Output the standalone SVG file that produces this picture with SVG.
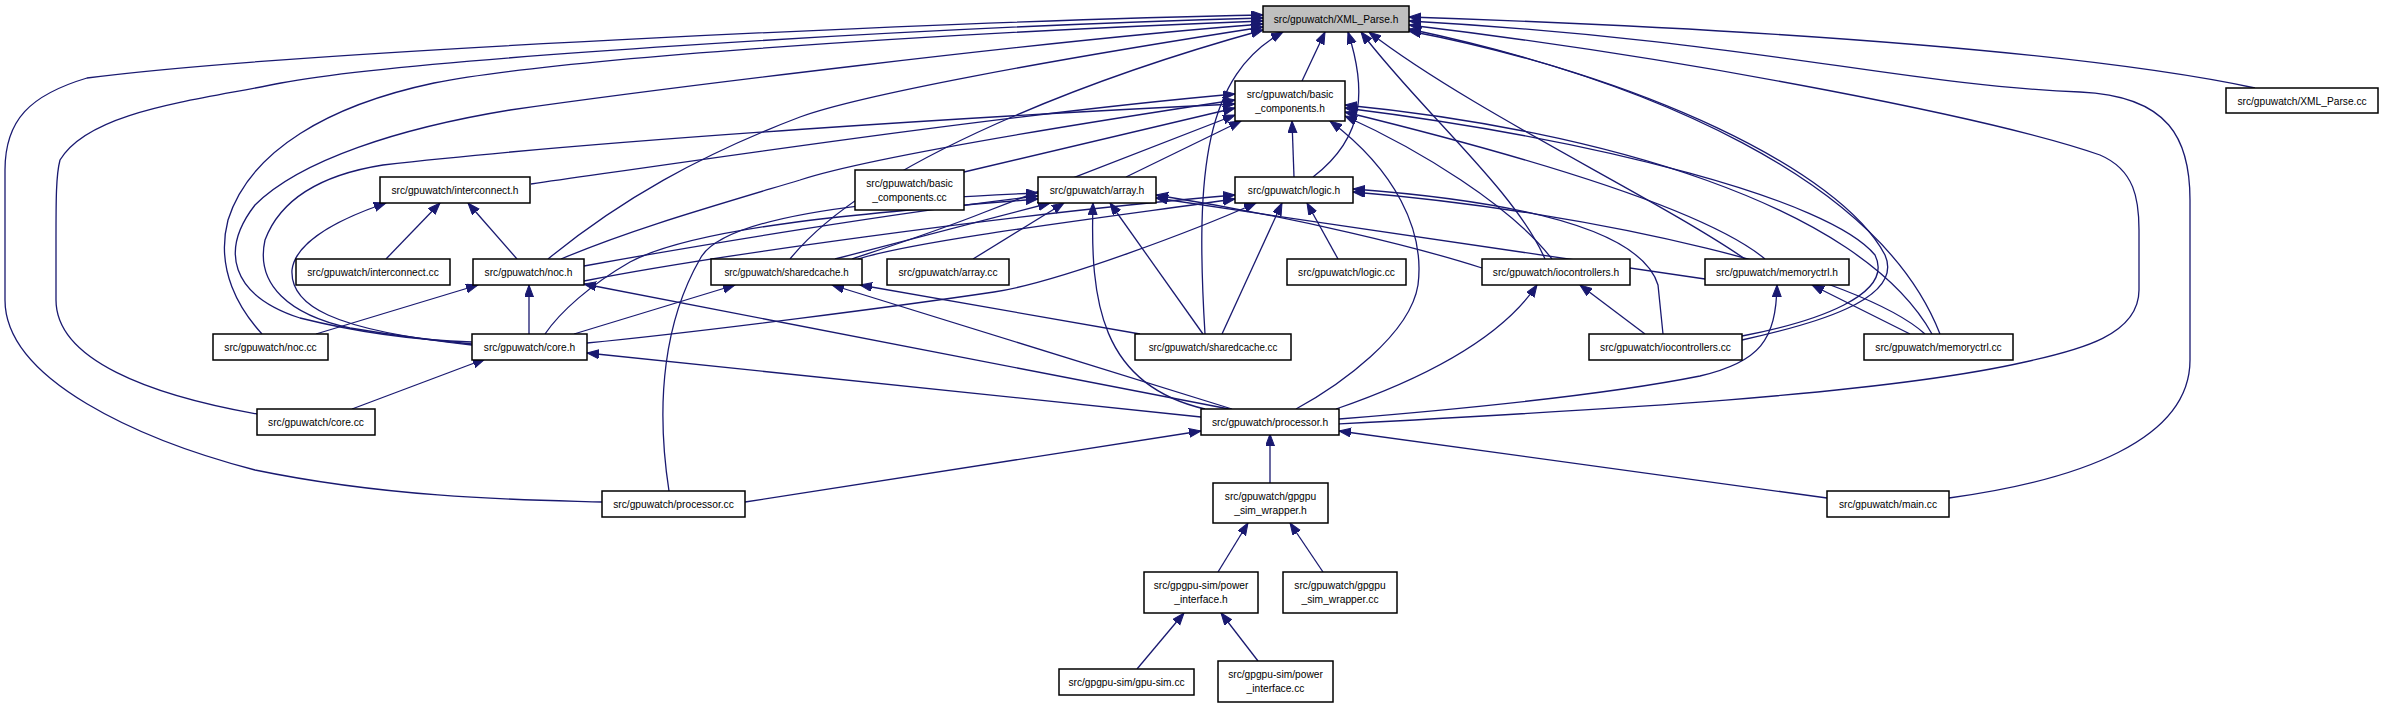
<svg xmlns="http://www.w3.org/2000/svg" width="2385" height="708" viewBox="0 0 2385 708">
<style>
.node rect{fill:#fff;stroke:#000;stroke-width:1.5}
#n_xml rect{fill:#bfbfbf}
.edges path{fill:none;stroke:#191970;stroke-width:1.3;marker-start:url(#arr)}
text{font-family:"Liberation Sans",Arial,sans-serif;font-size:11px;text-anchor:middle;fill:#000}
</style>
<defs>
<marker id="arr" markerUnits="userSpaceOnUse" markerWidth="13" markerHeight="10" refX="12" refY="4.5" orient="auto-start-reverse">
<path d="M0,0 L12,4.5 L0,9 z" fill="#191970" stroke="#191970" stroke-width="1"/>
</marker>
</defs>
<rect width="2385" height="708" fill="#fff"/>
<g class="edges">
<path d="M1325,32 L1302,81"/>
<path d="M1348,32 C1365,85 1368,135 1313,177"/>
<path d="M1283,32 C1205,75 1195,170 1205,334"/>
<path d="M1361,32 C1420,110 1515,190 1545,259"/>
<path d="M1369,32 C1470,110 1660,200 1745,259"/>
<path d="M1409,17 C1800,30 2100,55 2255,88"/>
<path d="M1409,21 C1750,40 1900,85 2080,92 C2170,96 2190,140 2190,200 L2190,360 C2190,440 2080,480 1949,498"/>
<path d="M1409,25 C1700,60 2000,120 2100,155 C2135,170 2139,200 2139,230 L2139,290 C2139,335 2080,350 2025,362 C1880,395 1600,410 1339,424"/>
<path d="M1409,29 C1650,80 1880,180 1940,334"/>
<path d="M1409,31 C1640,75 1840,170 1885,255 C1905,300 1810,325 1742,340"/>
<path d="M1263,27 C1050,60 860,95 800,117 C700,155 620,200 548,259"/>
<path d="M1263,30 C1100,75 870,160 790,259"/>
<path d="M1263,24 C1050,40 650,90 510,110 C400,128 300,160 255,205 C220,250 230,295 300,318 C380,338 440,341 472,342"/>
<path d="M1263,21 C900,35 550,60 434,83 C330,105 250,150 228,220 C215,270 240,310 262,334"/>
<path d="M1263,18 C900,28 400,60 281,83 C200,100 90,110 60,160 C56,175 56,200 56,240 L56,300 C56,360 150,395 257,414"/>
<path d="M1263,15 C1000,20 300,50 87,78 C30,95 5,120 5,170 L5,300 C5,380 140,440 255,470 C400,500 540,500 602,502"/>
<path d="M1241,121 L1126,177"/>
<path d="M1292,121 L1294,177"/>
<path d="M1330,121 C1395,170 1425,230 1418,285 C1410,335 1340,385 1296,409"/>
<path d="M1235,94 C1000,115 700,160 531,184"/>
<path d="M1235,100 C1050,128 860,160 800,180 C700,210 630,230 561,259"/>
<path d="M1235,108 L964,172"/>
<path d="M1235,115 L985,212 C940,230 885,248 852,259"/>
<path d="M1235,104 C1000,115 600,140 383,165 C320,175 280,200 265,240 C255,285 290,315 350,328 C410,338 450,342 472,344"/>
<path d="M440,203 L386,259"/>
<path d="M468,203 L517,259"/>
<path d="M386,203 C330,222 295,245 292,270 C290,305 330,330 472,345"/>
<path d="M1064,203 L973,259"/>
<path d="M1110,203 L1203,334"/>
<path d="M1093,203 C1090,300 1100,385 1205,409"/>
<path d="M1050,203 L835,259"/>
<path d="M1038,196 C900,212 700,245 584,266"/>
<path d="M1038,199 C880,212 700,225 630,262 C590,285 560,312 545,334"/>
<path d="M1038,193 C850,200 720,220 700,259 C665,320 655,400 669,491"/>
<path d="M1156,195 C1300,218 1420,248 1482,268"/>
<path d="M1156,198 C1350,228 1600,262 1705,279"/>
<path d="M1307,203 L1338,259"/>
<path d="M1282,203 L1222,334"/>
<path d="M1256,203 C1200,228 1060,282 994,292 C900,306 700,332 587,343"/>
<path d="M1235,195 C1000,215 700,258 584,281"/>
<path d="M1235,199 C1100,218 920,240 858,259"/>
<path d="M1353,189 C1500,200 1640,225 1658,285 L1663,334"/>
<path d="M1353,192 C1600,212 1860,275 1925,334"/>
<path d="M478,285 L316,334"/>
<path d="M529,285 L529,334"/>
<path d="M584,284 L1229,409"/>
<path d="M735,285 L574,334"/>
<path d="M832,285 L1232,409"/>
<path d="M860,285 L1140,334"/>
<path d="M485,359 L352,409"/>
<path d="M587,353 L1201,417"/>
<path d="M1580,285 L1645,334"/>
<path d="M1537,285 C1500,340 1420,380 1336,409"/>
<path d="M1812,285 L1910,334"/>
<path d="M1777,285 C1776,340 1760,362 1700,376 C1600,396 1450,410 1339,419"/>
<path d="M1345,116 C1420,150 1510,205 1552,259"/>
<path d="M1345,112 C1500,150 1700,205 1765,259"/>
<path d="M1345,105 C1600,130 1860,205 1932,334"/>
<path d="M1345,108 C1600,140 1830,200 1875,255 C1895,295 1815,322 1742,336"/>
<path d="M1201,431 L745,502"/>
<path d="M1270,434 L1270,483"/>
<path d="M1339,431 L1827,498"/>
<path d="M1248,523 L1218,572"/>
<path d="M1290,523 L1323,572"/>
<path d="M1184,613 L1137,669"/>
<path d="M1221,613 L1258,661"/>
</g>
<g id="n_xml" class="node"><rect x="1263" y="6" width="146" height="26"/><text x="1336" y="23" textLength="124.7" lengthAdjust="spacingAndGlyphs">src/gpuwatch/XML_Parse.h</text></g>
<g id="n_bch" class="node"><rect x="1235" y="81" width="110" height="40"/><text x="1290" y="98" textLength="86.7" lengthAdjust="spacingAndGlyphs">src/gpuwatch/basic</text><text x="1290" y="112" textLength="69.7" lengthAdjust="spacingAndGlyphs">_components.h</text></g>
<g id="n_xmlcc" class="node"><rect x="2226" y="88" width="152" height="25"/><text x="2302" y="104.5" textLength="129.2" lengthAdjust="spacingAndGlyphs">src/gpuwatch/XML_Parse.cc</text></g>
<g id="n_ich" class="node"><rect x="380" y="177" width="150" height="26"/><text x="455" y="194" textLength="127" lengthAdjust="spacingAndGlyphs">src/gpuwatch/interconnect.h</text></g>
<g id="n_bccc" class="node"><rect x="855" y="170" width="109" height="40"/><text x="909.5" y="187" textLength="86.7" lengthAdjust="spacingAndGlyphs">src/gpuwatch/basic</text><text x="909.5" y="201" textLength="74.3" lengthAdjust="spacingAndGlyphs">_components.cc</text></g>
<g id="n_arr" class="node"><rect x="1038" y="177" width="118" height="26"/><text x="1097" y="194" textLength="94.7" lengthAdjust="spacingAndGlyphs">src/gpuwatch/array.h</text></g>
<g id="n_log" class="node"><rect x="1235" y="177" width="118" height="26"/><text x="1294" y="194" textLength="92.4" lengthAdjust="spacingAndGlyphs">src/gpuwatch/logic.h</text></g>
<g id="n_icc" class="node"><rect x="296" y="259" width="154" height="26"/><text x="373" y="276" textLength="131.5" lengthAdjust="spacingAndGlyphs">src/gpuwatch/interconnect.cc</text></g>
<g id="n_noc" class="node"><rect x="473" y="259" width="111" height="26"/><text x="528.5" y="276" textLength="87.9" lengthAdjust="spacingAndGlyphs">src/gpuwatch/noc.h</text></g>
<g id="n_sch" class="node"><rect x="711" y="259" width="151" height="26"/><text x="786.5" y="276" textLength="124.2" lengthAdjust="spacingAndGlyphs">src/gpuwatch/sharedcache.h</text></g>
<g id="n_arrcc" class="node"><rect x="887" y="259" width="122" height="26"/><text x="948" y="276" textLength="99.2" lengthAdjust="spacingAndGlyphs">src/gpuwatch/array.cc</text></g>
<g id="n_logcc" class="node"><rect x="1287" y="259" width="119" height="26"/><text x="1346.5" y="276" textLength="96.9" lengthAdjust="spacingAndGlyphs">src/gpuwatch/logic.cc</text></g>
<g id="n_ioh" class="node"><rect x="1482" y="259" width="148" height="26"/><text x="1556" y="276" textLength="126.4" lengthAdjust="spacingAndGlyphs">src/gpuwatch/iocontrollers.h</text></g>
<g id="n_mch" class="node"><rect x="1705" y="259" width="144" height="26"/><text x="1777" y="276" textLength="121.9" lengthAdjust="spacingAndGlyphs">src/gpuwatch/memoryctrl.h</text></g>
<g id="n_noccc" class="node"><rect x="213" y="334" width="115" height="26"/><text x="270.5" y="351" textLength="92.4" lengthAdjust="spacingAndGlyphs">src/gpuwatch/noc.cc</text></g>
<g id="n_core" class="node"><rect x="472" y="334" width="115" height="26"/><text x="529.5" y="351" textLength="91.3" lengthAdjust="spacingAndGlyphs">src/gpuwatch/core.h</text></g>
<g id="n_schcc" class="node"><rect x="1135" y="334" width="156" height="26"/><text x="1213" y="351" textLength="128.7" lengthAdjust="spacingAndGlyphs">src/gpuwatch/sharedcache.cc</text></g>
<g id="n_iocc" class="node"><rect x="1589" y="334" width="153" height="26"/><text x="1665.5" y="351" textLength="130.9" lengthAdjust="spacingAndGlyphs">src/gpuwatch/iocontrollers.cc</text></g>
<g id="n_mccc" class="node"><rect x="1864" y="334" width="149" height="26"/><text x="1938.5" y="351" textLength="126.4" lengthAdjust="spacingAndGlyphs">src/gpuwatch/memoryctrl.cc</text></g>
<g id="n_corecc" class="node"><rect x="257" y="409" width="118" height="26"/><text x="316" y="426" textLength="95.8" lengthAdjust="spacingAndGlyphs">src/gpuwatch/core.cc</text></g>
<g id="n_proc" class="node"><rect x="1201" y="409" width="138" height="26"/><text x="1270" y="426" textLength="116.2" lengthAdjust="spacingAndGlyphs">src/gpuwatch/processor.h</text></g>
<g id="n_proccc" class="node"><rect x="602" y="491" width="143" height="26"/><text x="673.5" y="508" textLength="120.7" lengthAdjust="spacingAndGlyphs">src/gpuwatch/processor.cc</text></g>
<g id="n_main" class="node"><rect x="1827" y="491" width="122" height="26"/><text x="1888" y="508" textLength="98.1" lengthAdjust="spacingAndGlyphs">src/gpuwatch/main.cc</text></g>
<g id="n_gsw" class="node"><rect x="1213" y="483" width="115" height="40"/><text x="1270.5" y="500" textLength="91.3" lengthAdjust="spacingAndGlyphs">src/gpuwatch/gpgpu</text><text x="1270.5" y="514" textLength="72.6" lengthAdjust="spacingAndGlyphs">_sim_wrapper.h</text></g>
<g id="n_pi" class="node"><rect x="1144" y="572" width="114" height="41"/><text x="1201" y="589" textLength="94.7" lengthAdjust="spacingAndGlyphs">src/gpgpu-sim/power</text><text x="1201" y="603" textLength="53.3" lengthAdjust="spacingAndGlyphs">_interface.h</text></g>
<g id="n_gswcc" class="node"><rect x="1283" y="572" width="114" height="41"/><text x="1340" y="589" textLength="91.3" lengthAdjust="spacingAndGlyphs">src/gpuwatch/gpgpu</text><text x="1340" y="603" textLength="77.1" lengthAdjust="spacingAndGlyphs">_sim_wrapper.cc</text></g>
<g id="n_gpusim" class="node"><rect x="1059" y="669" width="135" height="26"/><text x="1126.5" y="686" textLength="116.2" lengthAdjust="spacingAndGlyphs">src/gpgpu-sim/gpu-sim.cc</text></g>
<g id="n_picc" class="node"><rect x="1218" y="661" width="115" height="41"/><text x="1275.5" y="678" textLength="94.7" lengthAdjust="spacingAndGlyphs">src/gpgpu-sim/power</text><text x="1275.5" y="692" textLength="57.8" lengthAdjust="spacingAndGlyphs">_interface.cc</text></g>
</svg>
